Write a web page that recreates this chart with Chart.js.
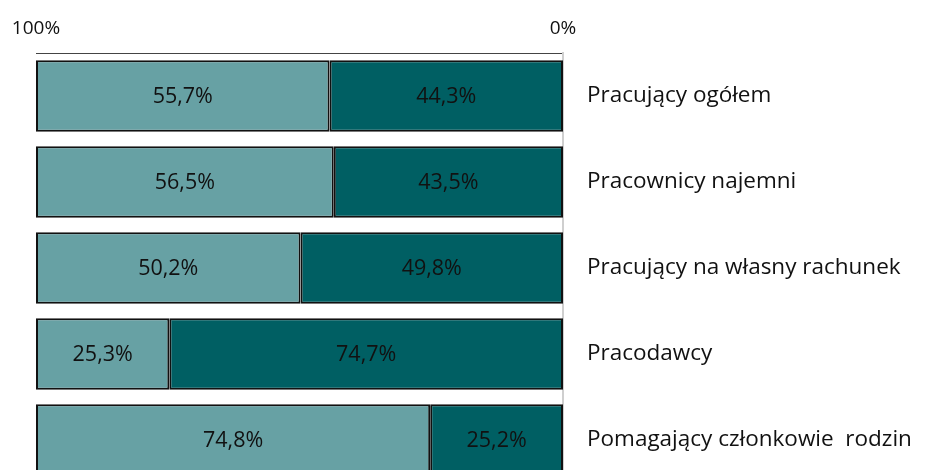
<!DOCTYPE html>
<html>
<head>
<meta charset="utf-8">
<script src="https://cdn.jsdelivr.net/npm/chart.js@4/dist/chart.umd.min.js"></script>
<style>
  html, body { margin: 0; padding: 0; background: #fff; overflow: hidden; }
  canvas { display: block; }
</style>
</head>
<body>
<canvas id="wykres" width="926" height="483"></canvas>
<script>
// Dane
const kategorie = ['Pracujący ogółem', 'Pracownicy najemni', 'Pracujący na własny rachunek', 'Pracodawcy', 'Pomagający członkowie  rodzin'];
const kobiety = [44.3, 43.5, 49.8, 74.7, 25.2];
const mezczyzni = [55.7, 56.5, 50.2, 25.3, 74.8];
const ticki = [0, 100];

const FONT = '"Open Sans", "Noto Sans", sans-serif';

function fmt(v) {
  return v.toFixed(1).replace('.', ',') + '%';
}

// etykiety w slupkach
const etykiety = {
  id: 'etykiety',
  afterDatasetsDraw(chart) {
    const ctx = chart.ctx;
    ctx.save();
    ctx.font = '21.5px ' + FONT;
    ctx.fillStyle = '#111';
    ctx.textAlign = 'center';
    ctx.textBaseline = 'middle';
    chart.data.datasets.forEach((ds, i) => {
      chart.getDatasetMeta(i).data.forEach((el, j) => {
        const p = el.getCenterPoint();
        ctx.fillText(fmt(ds.data[j]), p.x, p.y + 1);
      });
    });
    ctx.restore();
  }
};

const ctx = document.getElementById('wykres').getContext('2d');
new Chart(ctx, {
  type: 'bar',
  data: {
    labels: kategorie,
    datasets: [
      { data: kobiety, backgroundColor: '#005f63', borderColor: '#111', borderWidth: 2, borderSkipped: false },
      { data: mezczyzni, backgroundColor: '#67a1a4', borderColor: '#111', borderWidth: 2, borderSkipped: false }
    ]
  },
  options: {
    indexAxis: 'y',
    responsive: false,
    animation: false,
    devicePixelRatio: 1,
    layout: { padding: { left: 36, right: 0, top: 0, bottom: 0 } },
    plugins: { legend: { display: false }, tooltip: { enabled: false } },
    datasets: { bar: { categoryPercentage: 1, barPercentage: 0.83 } },
    scales: {
      x: {
        position: 'top',
        stacked: true,
        reverse: true,
        min: 0,
        max: 100,
        afterBuildTicks: axis => { axis.ticks = ticki.map(v => ({ value: v })); },
        afterFit: scale => { scale.height = 53; },
        grid: { display: false, drawTicks: false },
        border: { display: true, color: '#444', width: 1 },
        ticks: {
          padding: 13,
          maxRotation: 0,
          color: '#111',
          font: { family: FONT, size: 19 },
          callback: v => v + '%'
        }
      },
      y: {
        position: 'right',
        stacked: true,
        afterFit: scale => {
          scale.width = 363;
          // bez dodatkowego marginesu od etykiet
          scale.paddingTop = 0;
          scale.paddingBottom = 0;
        },
        grid: { display: false, drawTicks: false },
        border: { display: true, color: '#cfcfcf', width: 2 },
        ticks: {
          padding: 24,
          crossAlign: 'near',
          color: '#111',
          font: { family: FONT, size: 22.5 }
        }
      }
    }
  },
  plugins: [etykiety]
});
</script>
</body>
</html>
